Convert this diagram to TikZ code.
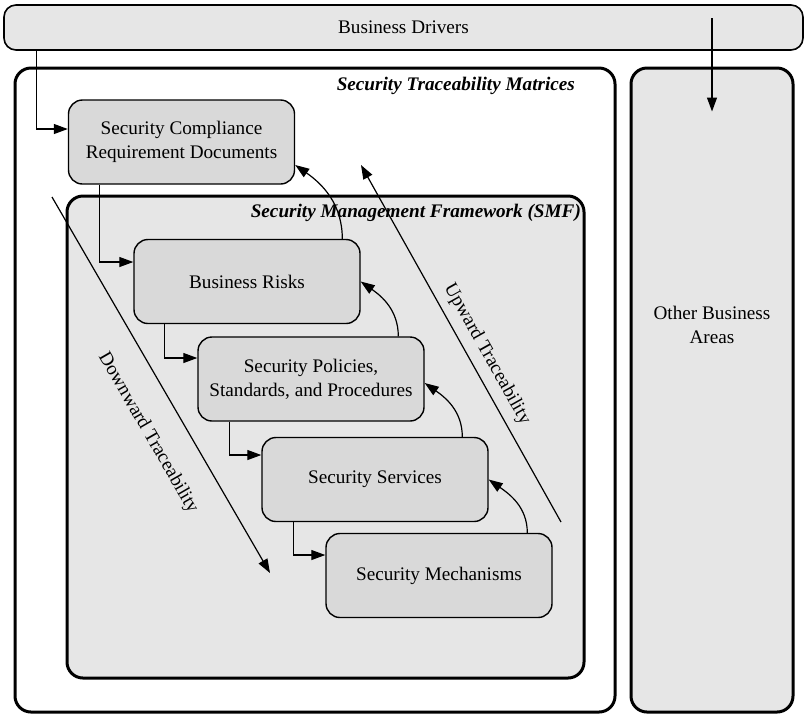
\documentclass[tikz,border=0pt]{standalone}
\usepackage{fontspec}
\setmainfont{Liberation Serif}
\usetikzlibrary{arrows.meta,calc}
\definecolor{stagegray}{HTML}{D9D9D9}
\definecolor{panelgray}{HTML}{E6E6E6}
\begin{document}
\begin{tikzpicture}[x=0.5pt,y=-0.5pt,
  font=\fontsize{9.6}{12}\selectfont,
  arr/.style={draw, line width=0.6pt, -{Triangle[length=7pt,width=5pt]}},
  stage/.style={draw, line width=0.7pt, rounded corners=7pt, fill=stagegray,
    minimum width=113pt, minimum height=42pt, align=center, inner sep=0pt},
  frame/.style={draw, line width=1.5pt, rounded corners=8pt, inner sep=0pt},
  heading/.style={anchor=east, font=\fontsize{9.6}{12}\selectfont\bfseries\itshape}
]
\useasboundingbox (0,0) rectangle (807,720);

% top band and the outer panels
\node[draw, line width=0.8pt, rounded corners=6pt, fill=panelgray,
      minimum width=399.5pt, minimum height=22.5pt] (drivers) at (403.5,27.5) {Business Drivers};
\node[frame, fill=white, minimum width=300pt, minimum height=322pt] (stm) at (315,390) {};
\node[frame, fill=panelgray, minimum width=81pt, minimum height=322pt] (other) at (712,390) {};
\node[align=center] (othertext) at (712,325) {Other Business\\Areas};
\node[frame, fill=panelgray, minimum width=258.5pt, minimum height=241pt] (smf) at (325.5,437) {};

% cascade of stages
\node[stage] (scrd) at (181.5,142) {Security Compliance\\Requirement Documents};
\node[stage] (risks) at (247,281.5) {Business Risks};
\node[stage] (policies) at (311,379) {Security Policies,\\Standards, and Procedures};
\node[stage] (services) at (375,479.5) {Security Services};
\node[stage] (mech) at (439,575.5) {Security Mechanisms};

% business drivers feed both sides
\coordinate (dtap) at ($(other.north |- drivers.center)+(0,-9.5)$);
\draw[arr] ([xshift=16.5pt]drivers.south west) |- ([yshift=6.5pt]scrd.west);
\draw[arr] (dtap) -- ([yshift=-22.5pt]other.north);

% downward elbows
\draw[arr] ([xshift=16pt]scrd.south west) |- ([yshift=9.75pt]risks.west);
\draw[arr] ([xshift=15.5pt]risks.south west) |- ([yshift=10.5pt]policies.west);
\draw[arr] ([xshift=16pt]policies.south west) |- ([yshift=12.25pt]services.west);
\draw[arr] ([xshift=16pt]services.south west) |- ([yshift=10.25pt]mech.west);

% upward curves
\draw[arr] ([xshift=101pt]mech.north west) to[out=90,in=-35] (services.east);
\draw[arr] ([xshift=100.5pt]services.north west) to[out=90,in=-35] ([yshift=-2pt]policies.east);
\draw[arr] ([xshift=100.5pt]policies.north west) to[out=90,in=-35] (risks.east);
\draw[arr] ([xshift=104.5pt]risks.north west) to[out=90,in=-35] ([yshift=-11.5pt]scrd.east);

% traceability directions
\coordinate (downA) at (52,197);
\coordinate (downB) at (270,573);
\draw[arr] (downA) -- (downB);
\node[rotate=-60] (downlabel) at (148,433) {Downward Traceability};

\coordinate (upA) at (561,522);
\coordinate (upB) at (361,165);
\draw[arr] (upA) -- (upB);
\node[rotate=-60.7] (uplabel) at (487,354) {Upward Traceability};

% panel headings
\node[heading] (stmtitle) at (582,86) {Security Traceability Matrices};
\node[heading] (smftitle) at (588,213) {Security Management Framework (SMF)};
\end{tikzpicture}
\end{document}
